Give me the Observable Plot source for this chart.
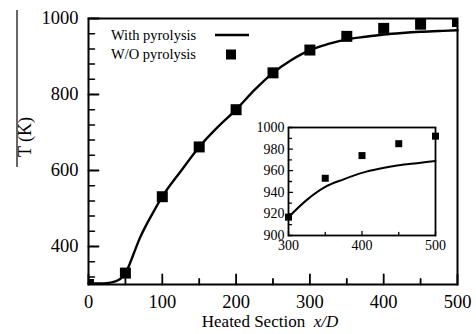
<!DOCTYPE html>
<html>
<head>
<meta charset="utf-8">
<script src="https://cdn.jsdelivr.net/npm/d3@7"></script>
<script src="https://cdn.jsdelivr.net/npm/@observablehq/plot@0.6"></script>
<style>
  body { margin: 0; background: #fff; }
  #chart { position: relative; width: 476px; height: 334px; }
  #inset { position: absolute; left: 240px; top: 115px; }
  #chart svg, #chart svg text { font-family: "Liberation Serif", "Times New Roman", serif !important; }
</style>
</head>
<body>
<div id="chart"><div id="inset"></div></div>
<script>
// Temperature along the heated section, x/D
const stations = [0, 50, 100, 150, 200, 250, 300, 350, 400, 450, 500];
const tempWithout = [300, 330, 531, 662, 760, 857, 917, 953, 974, 985, 992];

const curveStations = [0, 20, 30, 40, 45, 50, 55, 60, 70, 80, 90, 100, 125, 150, 175, 200, 225, 250, 275, 300, 325, 350, 375, 400, 425, 450, 475, 500];
const tempWith = [303, 303, 305, 311, 318, 330, 350, 375, 424, 463, 498, 531, 598, 662, 714, 760, 812, 857, 891, 917, 933, 945, 952, 958, 962, 965, 967, 969];

// Axis ticks
const mainXMajor = [0, 100, 200, 300, 400, 500];
const mainXMinor = [50, 150, 250, 350, 450];
const mainYMajor = [400, 600, 800, 1000];
const mainYMinor = [320, 360, 440, 480, 520, 560, 640, 680, 720, 760, 840, 880, 920, 960];
const insetXMajor = [300, 400, 500];
const insetXMinor = [350, 450];
const insetYMajor = [900, 920, 940, 960, 980, 1000];
const insetYMinor = [910, 930, 950, 970, 990];

const serif = '"Liberation Serif", "Times New Roman", serif';
const fmt = d3.format("d");

const points = stations.map((x, i) => ({x, T: tempWithout[i]}));
const curve = curveStations.map((x, i) => ({x, T: tempWith[i]}));

// Inward-pointing tick strokes
const tickShape = {draw(ctx, l) { ctx.moveTo(0, 0); ctx.lineTo(0, -l); }};
const yTicks = (values, len, w) => Plot.vector(values, {y: d => d, frameAnchor: "left", anchor: "start", rotate: 90, length: len, shape: tickShape, stroke: "black", strokeWidth: w});
const xTicks = (values, len, w) => Plot.vector(values, {x: d => d, frameAnchor: "bottom", anchor: "start", rotate: 0, length: len, shape: tickShape, stroke: "black", strokeWidth: w});

const main = Plot.plot({
  width: 476, height: 334,
  marginTop: 18, marginRight: 19, marginBottom: 50, marginLeft: 88,
  style: {fontFamily: serif, fontSize: "18.5px", color: "black", background: "white"},
  x: {domain: [0, 500]},
  y: {domain: [300, 1000]},
  marks: [
    Plot.axisX({ticks: mainXMajor, tickFormat: fmt, tickSize: 0, tickPadding: 10, fontSize: 18.5, fontFamily: serif, fill: "black", label: null}),
    Plot.axisY({ticks: mainYMajor, tickFormat: fmt, tickSize: 0, tickPadding: 10, fontSize: 18.5, fontFamily: serif, fill: "black", label: null}),
    xTicks(mainXMajor, 10, 1.8),
    xTicks(mainXMinor, 5.5, 1.8),
    yTicks(mainYMajor, 10, 1.8),
    yTicks(mainYMinor, 6, 1.5),
    Plot.line(curve, {x: "x", y: "T", curve: "monotone-x", stroke: "black", strokeWidth: 2.4}),
    Plot.dot(points, {x: "x", y: "T", symbol: "square", r: 6.2, fill: "black", stroke: null, clip: "frame"}),
    Plot.frame({stroke: "black", strokeWidth: 2})
  ]
});

const svg = d3.select(main);

// Axis titles
const xl = svg.append("text")
  .attr("x", 270).attr("y", 327)
  .attr("text-anchor", "middle")
  .attr("font-family", serif)
  .attr("font-size", 17).attr("fill", "black");
xl.append("tspan").text("Heated Section\u00a0\u00a0");
xl.append("tspan").attr("font-style", "italic").text("x/D");

svg.append("text")
  .attr("transform", "translate(31,137) rotate(-90)")
  .attr("text-anchor", "middle")
  .attr("font-family", serif)
  .attr("font-size", 18).attr("fill", "black")
  .text("T (K)");
svg.append("line")
  .attr("x1", 17).attr("x2", 17).attr("y1", 10).attr("y2", 167)
  .attr("stroke", "black").attr("stroke-width", 1.2);

// Legend
const lg = svg.append("g")
  .attr("font-family", serif).attr("font-size", 14.5)
  .attr("text-anchor", "start").attr("fill", "black");
lg.append("text").attr("x", 111).attr("y", 35).attr("dy", "0.35em").text("With pyrolysis");
lg.append("text").attr("x", 111).attr("y", 54).attr("dy", "0.35em").text("W/O pyrolysis");
lg.append("line").attr("x1", 215).attr("x2", 249).attr("y1", 35).attr("y2", 35)
  .attr("stroke", "black").attr("stroke-width", 2.4);
lg.append("rect").attr("x", 226).attr("y", 49.5).attr("width", 10).attr("height", 10).attr("fill", "black");

document.getElementById("chart").prepend(main);

// Zoomed view of the outlet region
const inset = Plot.plot({
  width: 210, height: 145,
  marginTop: 12, marginRight: 15, marginBottom: 25, marginLeft: 48,
  style: {fontFamily: serif, fontSize: "14px", color: "black", background: "transparent", overflow: "visible"},
  x: {domain: [300, 500]},
  y: {domain: [900, 1000]},
  marks: [
    Plot.axisX({ticks: insetXMajor, tickFormat: fmt, tickSize: 0, tickPadding: 5, fontSize: 14, fontFamily: serif, fill: "black", label: null}),
    Plot.axisY({ticks: insetYMajor, tickFormat: fmt, tickSize: 0, tickPadding: 4, fontSize: 14, fontFamily: serif, fill: "black", label: null}),
    xTicks(insetXMajor, 4, 1.3),
    xTicks(insetXMinor, 3, 1.3),
    yTicks(insetYMajor, 4, 1.3),
    yTicks(insetYMinor, 3, 1.3),
    Plot.line(curve.filter(d => d.x >= 300), {x: "x", y: "T", curve: "monotone-x", stroke: "black", strokeWidth: 2}),
    Plot.dot(points.filter(d => d.x >= 300), {x: "x", y: "T", symbol: "square", r: 3.95, fill: "black", stroke: null}),
    Plot.frame({stroke: "black", strokeWidth: 1.8})
  ]
});
document.getElementById("inset").appendChild(inset);
</script>
</body>
</html>
